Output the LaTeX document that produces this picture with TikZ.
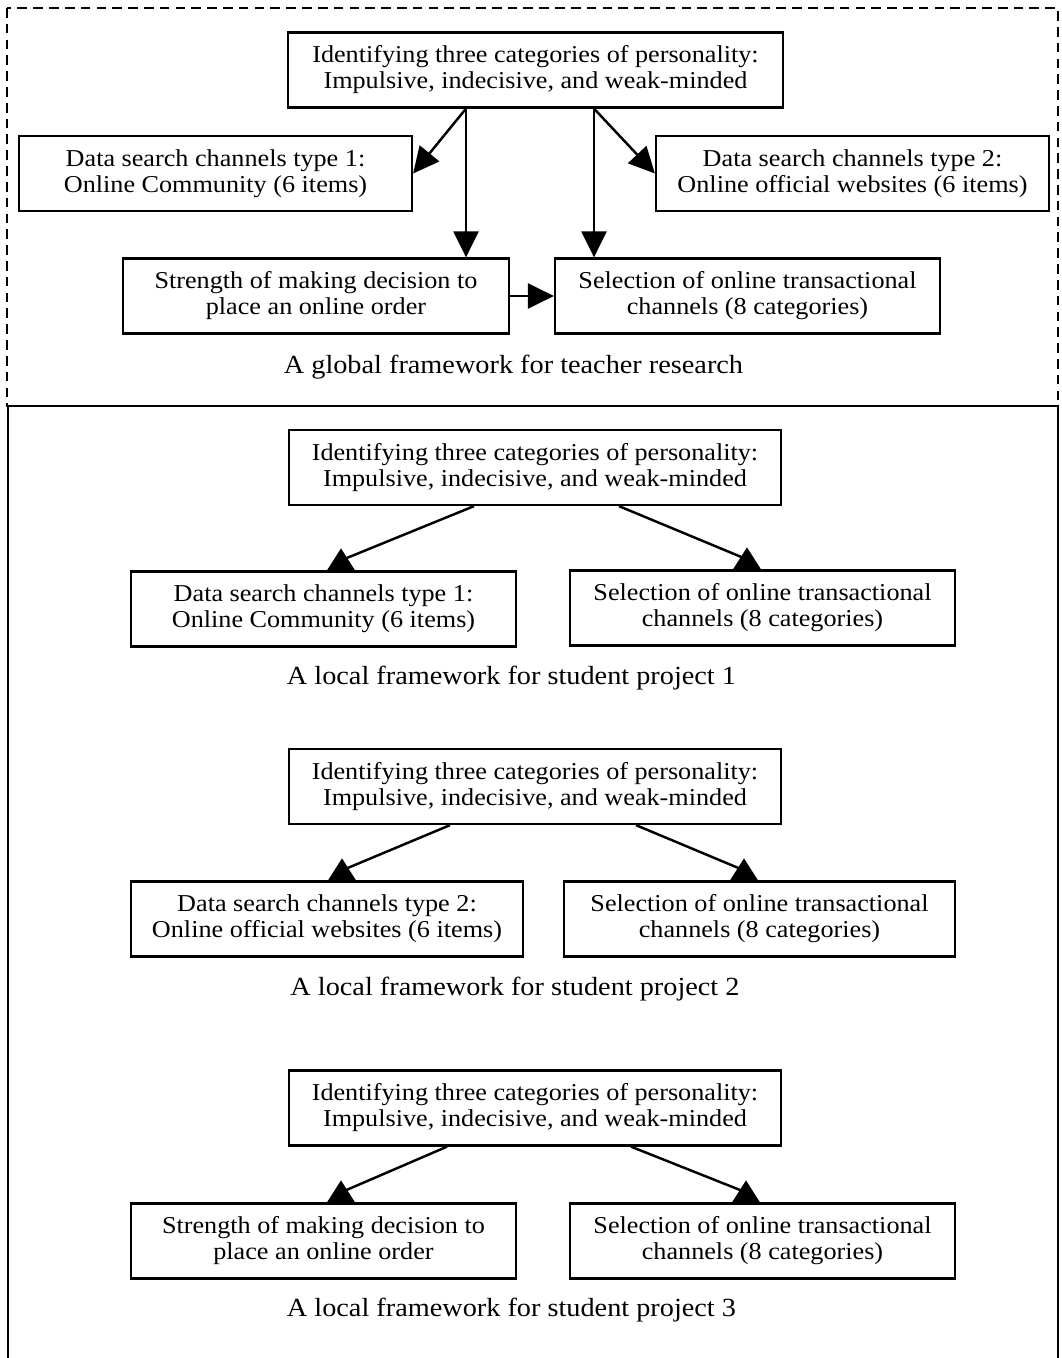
\documentclass[tikz,border=0pt]{standalone}
\usepackage{fontspec}
\setmainfont{Liberation Serif}[FakeStretch=1.08]
\usetikzlibrary{arrows.meta}

\newcommand{\boxfont}{\fontsize{13.8}{14.8}\selectfont}
\newcommand{\capfont}{\fontsize{14.9}{16}\selectfont}

\tikzset{
  box/.style={draw, line width=1.3pt, align=center, inner sep=0pt, minimum height=1.5cm, font=\boxfont},
  link/.style={line width=1.4pt},
  arrowlink/.style={link, -{Triangle[length=0.52cm,width=0.5cm]}},
  caption/.style={font=\capfont},
  uptip/.pic={\fill (-14,0) -- (14,0) -- (0,-22) -- cycle;}
}

\begin{document}
\begin{tikzpicture}[x=0.02cm, y=-0.02cm]
        \useasboundingbox (0,0) rectangle (1061,1358);
        % Frames
        \draw[line width=1.3pt, dash pattern=on 5.5pt off 3.5pt] (7,8) rectangle (1058,406);
        \draw[line width=1.2pt] (8,406) rectangle (1058,1420);

        % Global framework
        \node[box, minimum width=9.9cm] (tPers) at (535.5,70) {Identifying three categories of personality:\\Impulsive, indecisive, and weak-minded};
        \node[box, minimum width=7.86cm] (tData1) at (215.5,173.5) {Data search channels type 1:\\Online Community (6 items)};
        \node[box, minimum width=7.86cm] (tData2) at (852.5,173.5) {Data search channels type 2:\\Online official websites (6 items)};
        \node[box, minimum width=7.72cm] (tStr) at (316,296) {Strength of making decision to\\place an online order};
        \node[box, minimum width=7.7cm] (tSel) at (747.5,296) {Selection of online transactional\\channels (8 categories)};
        \node[caption] (tCap) at (513.5,367) {A global framework for teacher research};
        \coordinate (tLeft) at (466,0);
        \coordinate (tRight) at (594,0);
        \draw[arrowlink] (tPers.south -| tLeft) -- (tData1.east);
        \draw[arrowlink] (tPers.south -| tLeft) -- (tStr.north -| tLeft);
        \draw[arrowlink] (tPers.south -| tRight) -- (tData2.west);
        \draw[arrowlink] (tPers.south -| tRight) -- (tSel.north -| tRight);
        \draw[arrowlink] (tStr.east) -- (tSel.west);

        % Local framework 1
        \node[box, minimum width=9.84cm] (aPers) at (535,467.5) {Identifying three categories of personality:\\Impulsive, indecisive, and weak-minded};
        \node[box, minimum width=7.7cm] (aData1) at (323.5,609) {Data search channels type 1:\\Online Community (6 items)};
        \node[box, minimum width=7.7cm] (aSel) at (762.5,608) {Selection of online transactional\\channels (8 categories)};
        \node[caption] (aCap) at (511.5,678) {A local framework for student project 1};
        \draw[link] ([shift={(-61,0)}]aPers.south) -- ([shift={(17.5,-10)}]aData1.north);
        \pic at ([shift={(17.5,0)}]aData1.north) {uptip};
        \draw[link] ([shift={(84,0)}]aPers.south) -- ([shift={(-15.5,-10)}]aSel.north);
        \pic at ([shift={(-15.5,0)}]aSel.north) {uptip};

        % Local framework 2
        \node[box, minimum width=9.84cm] (bPers) at (535,786.5) {Identifying three categories of personality:\\Impulsive, indecisive, and weak-minded};
        \node[box, minimum width=7.84cm] (bData2) at (327,919) {Data search channels type 2:\\Online official websites (6 items)};
        \node[box, minimum width=7.82cm] (bSel) at (759.5,919) {Selection of online transactional\\channels (8 categories)};
        \node[caption] (bCap) at (515,989) {A local framework for student project 2};
        \draw[link] ([shift={(-85,0)}]bPers.south) -- ([shift={(15,-10)}]bData2.north);
        \pic at ([shift={(15,0)}]bData2.north) {uptip};
        \draw[link] ([shift={(101,0)}]bPers.south) -- ([shift={(-15.5,-10)}]bSel.north);
        \pic at ([shift={(-15.5,0)}]bSel.north) {uptip};

        % Local framework 3
        \node[box, minimum width=9.84cm] (cPers) at (535,1108) {Identifying three categories of personality:\\Impulsive, indecisive, and weak-minded};
        \node[box, minimum width=7.7cm] (cStr) at (323.5,1241) {Strength of making decision to\\place an online order};
        \node[box, minimum width=7.7cm] (cSel) at (762.5,1241) {Selection of online transactional\\channels (8 categories)};
        \node[caption] (cCap) at (511.5,1310) {A local framework for student project 3};
        \draw[link] ([shift={(-88,0)}]cPers.south) -- ([shift={(17.5,-10)}]cStr.north);
        \pic at ([shift={(17.5,0)}]cStr.north) {uptip};
        \draw[link] ([shift={(96,0)}]cPers.south) -- ([shift={(-16.5,-10)}]cSel.north);
        \pic at ([shift={(-16.5,0)}]cSel.north) {uptip};
    \end{tikzpicture}
\end{document}
